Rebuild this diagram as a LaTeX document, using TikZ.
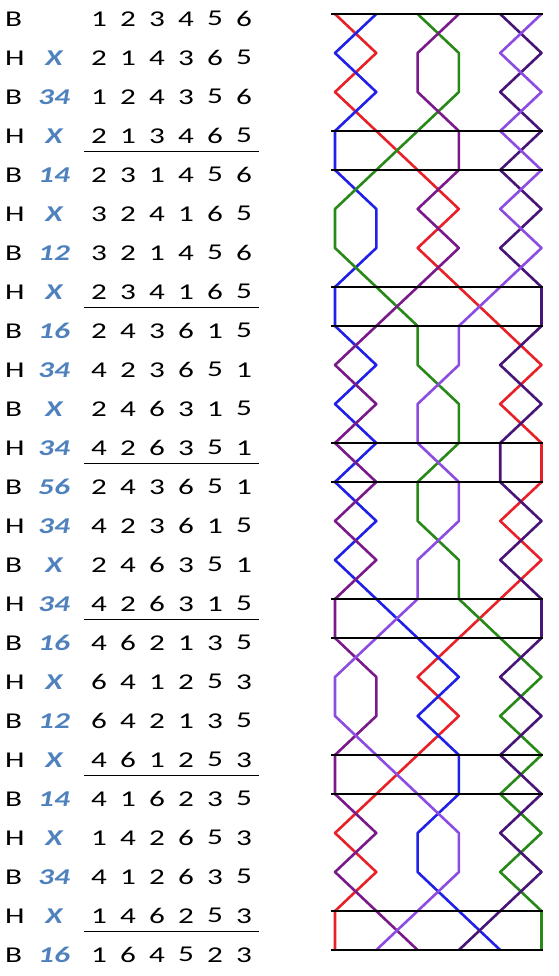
\documentclass[tikz,border=0pt]{standalone}
\usepackage{fontspec}
\setmainfont{Carlito}[FakeStretch=1.38]
\usetikzlibrary{calc}
\definecolor{bellred}{RGB}{232,32,40}
\definecolor{bellblue}{RGB}{32,32,232}
\definecolor{bellgreen}{RGB}{40,136,24}
\definecolor{bellpurple}{RGB}{122,26,138}
\definecolor{bellindigo}{RGB}{72,20,120}
\definecolor{bellviolet}{RGB}{140,76,226}
\definecolor{pnblue}{RGB}{79,129,189}
\tikzset{
	rowtext/.style={inner sep=0pt, font=\fontsize{22.6}{26}\selectfont},
	pntext/.style={rowtext, text=pnblue, font=\fontsize{22.6}{26}\selectfont\bfseries\itshape},
	bellline/.style={line width=2.6pt, line join=round},
	leadline/.style={line width=2pt, color=black},
	rowrule/.style={line width=1.1pt, color=black}
}

\begin{document}
\begin{tikzpicture}[x=1pt, y=-1pt]
			%%%%% START %%%%%
			\useasboundingbox (0, 0) rectangle (558, 976);
			
			% rows of changes
			\foreach \side/\pn/\perm [count=\r] in {
				B/{}/{1,2,3,4,5,6}, H/X/{2,1,4,3,6,5}, B/34/{1,2,4,3,5,6}, H/X/{2,1,3,4,6,5},
				B/14/{2,3,1,4,5,6}, H/X/{3,2,4,1,6,5}, B/12/{3,2,1,4,5,6}, H/X/{2,3,4,1,6,5},
				B/16/{2,4,3,6,1,5}, H/34/{4,2,3,6,5,1}, B/X/{2,4,6,3,1,5}, H/34/{4,2,6,3,5,1},
				B/56/{2,4,3,6,5,1}, H/34/{4,2,3,6,1,5}, B/X/{2,4,6,3,5,1}, H/34/{4,2,6,3,1,5},
				B/16/{4,6,2,1,3,5}, H/X/{6,4,1,2,5,3}, B/12/{6,4,2,1,3,5}, H/X/{4,6,1,2,5,3},
				B/14/{4,1,6,2,3,5}, H/X/{1,4,2,6,5,3}, B/34/{4,1,2,6,3,5}, H/X/{1,4,6,2,5,3},
				B/16/{1,6,4,5,2,3}} {
				\node[rowtext, anchor=west] (s\r) at (5, {18.8+39*(\r-1)}) {\side};
				\node[pntext] (pn\r) at (54, {18.8+39*(\r-1)}) {\pn};
				\foreach \d [count=\c] in \perm
					\node[rowtext] (d\r-\c) at ({99+29*(\c-1)}, {18.8+39*(\r-1)}) {\d};
			}
			
			% lead ends
			\foreach \r in {4,8,...,24}
				\draw[rowrule] ($(d\r-1.center)+(-15,16)$) -- ($(d\r-6.center)+(15,16)$);
			
			% grid of places
			\foreach \r in {1,...,25}
				\foreach \c in {1,...,6}
					\coordinate (g\c-\r) at ({335+41.3*(\c-1)}, {14+39*(\r-1)});
			
			% bells
			\draw[bellline, color=bellred] (g1-1) \foreach \p [count=\r from 2] in {2,1,2,3,4,3,4,5,6,5,6,6,5,6,5,4,3,4,3,2,1,2,1,1} { -- (g\p-\r) };
			\draw[bellline, color=bellblue] (g2-1) \foreach \p [count=\r from 2] in {1,2,1,1,2,2,1,1,2,1,2,1,2,1,2,3,4,3,4,4,3,3,4,5} { -- (g\p-\r) };
			\draw[bellline, color=bellgreen] (g3-1) \foreach \p [count=\r from 2] in {4,4,3,2,1,1,2,3,3,4,4,3,3,4,4,5,6,5,6,5,6,5,6,6} { -- (g\p-\r) };
			\draw[bellline, color=bellpurple] (g4-1) \foreach \p [count=\r from 2] in {3,3,4,4,3,4,3,2,1,2,1,2,1,2,1,1,2,2,1,1,2,1,2,3} { -- (g\p-\r) };
			\draw[bellline, color=bellindigo] (g5-1) \foreach \p [count=\r from 2] in {6,5,6,5,6,5,6,6,5,6,5,5,6,5,6,6,5,6,5,6,5,6,5,4} { -- (g\p-\r) };
			\draw[bellline, color=bellviolet] (g6-1) \foreach \p [count=\r from 2] in {5,6,5,6,5,6,5,4,4,3,3,4,4,3,3,2,1,1,2,3,4,4,3,2} { -- (g\p-\r) };
			
			% treble leads
			\foreach \r in {1,4,5,8,9,12,13,16,17,20,21,24,25}
				\draw[leadline] ([xshift=-4pt]g1-\r) -- ([xshift=1pt]g6-\r);
			
			%%%%% END %%%%%
		\end{tikzpicture}
\end{document}
